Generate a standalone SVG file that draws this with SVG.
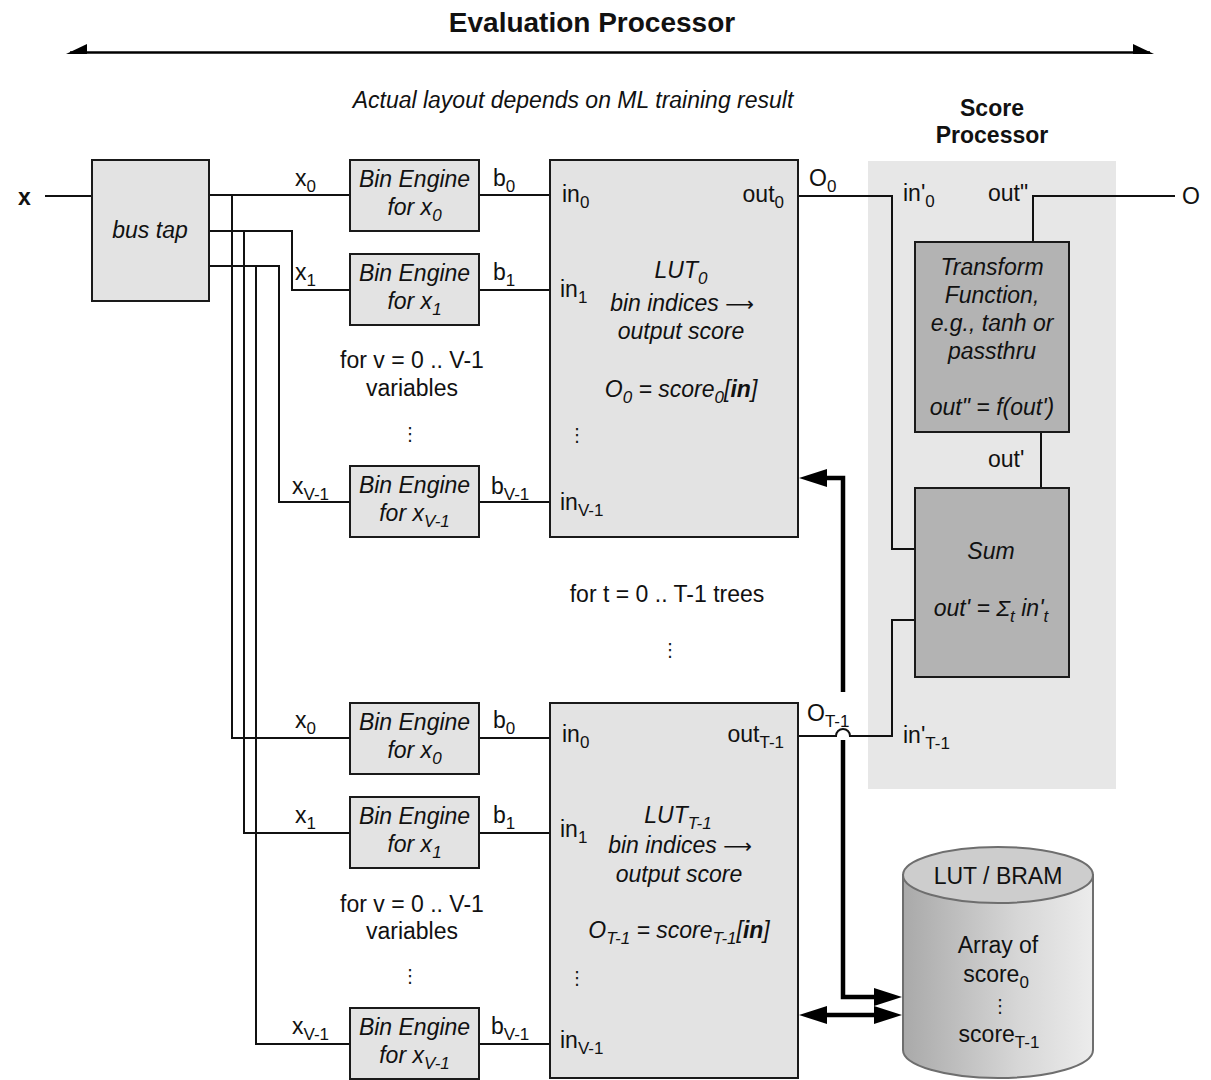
<svg xmlns="http://www.w3.org/2000/svg" width="1211" height="1080" viewBox="0 0 1211 1080">
<defs>
<style>
.box{fill:#e3e3e3;stroke:#1a1a1a;stroke-width:2}
.dbox{fill:#b3b3b3;stroke:#1a1a1a;stroke-width:2}
.w{fill:none;stroke:#111;stroke-width:2}
.thick{fill:none;stroke:#000;stroke-width:4.5}
text{font-family:"Liberation Sans","DejaVu Sans",Arial,sans-serif;font-size:23px;fill:#111}
.i{font-style:italic}
.b{font-weight:bold}
.c{text-anchor:middle}
.e{text-anchor:end}
.s{font-size:17px}
.arr{font-family:"DejaVu Sans",sans-serif;font-size:20px}
.dots{font-family:"DejaVu Sans",sans-serif;font-size:18px}
</style>
<marker id="ah" markerUnits="userSpaceOnUse" markerWidth="28" markerHeight="20" viewBox="0 0 28 20" refX="18" refY="10" orient="auto-start-reverse">
<path d="M0,1 L28,10 L0,19 z" fill="#000"/>
</marker>
<linearGradient id="cyl" x1="0" y1="0" x2="1" y2="0">
<stop offset="0" stop-color="#a9a9a9"/>
<stop offset="0.6" stop-color="#d6d6d6"/>
<stop offset="1" stop-color="#ececec"/>
</linearGradient>
</defs>
<rect width="1211" height="1080" fill="#fff"/>

<g id="title">
<text class="b c" x="592" y="32" style="font-size:28px">Evaluation Processor</text>
<line x1="70" y1="52.5" x2="1150" y2="52.5" stroke="#000" stroke-width="2.5"/>
<polygon points="66,54 87,44 87,54" fill="#000"/>
<polygon points="1154,54 1133,44 1133,54" fill="#000"/>
<text class="i c" x="573" y="108">Actual layout depends on ML training result</text>
</g>

<g id="score-panel">
<rect x="868" y="161" width="248" height="628" fill="#e7e7e7"/>
<text class="b c" x="992" y="116">Score</text>
<text class="b c" x="992" y="143">Processor</text>
</g>

<g id="connectors">
<line class="w" x1="45" y1="196" x2="92" y2="196"/>
<line class="w" x1="209" y1="195" x2="350" y2="195"/>
<path class="w" d="M209,231 H292 V290 H350"/>
<path class="w" d="M209,266 H279 V502 H350"/>
<path class="w" d="M232,195 V738 H350"/>
<path class="w" d="M244,231 V833 H350"/>
<path class="w" d="M256,266 V1044 H350"/>
<line class="w" x1="479" y1="195" x2="550" y2="195"/>
<line class="w" x1="479" y1="290" x2="550" y2="290"/>
<line class="w" x1="479" y1="502" x2="550" y2="502"/>
<line class="w" x1="479" y1="738" x2="550" y2="738"/>
<line class="w" x1="479" y1="833" x2="550" y2="833"/>
<line class="w" x1="479" y1="1044" x2="550" y2="1044"/>
<path class="w" d="M798,196 H892 V549 H915"/>
<path class="w" d="M798,736 H836 A7,7 0 0 1 850,736 H892 V620 H915"/>
<path class="w" d="M1033,242 V196 H1175"/>
<path class="w" d="M1041,432 V488"/>
<path class="thick" d="M843,692 V478 H809" marker-end="url(#ah)"/>
<path class="thick" d="M843,740 V997 H892" marker-end="url(#ah)"/>
<path class="thick" d="M809,1015 H892" marker-start="url(#ah)" marker-end="url(#ah)"/>
</g>

<g id="wire-labels">
<text class="b" x="18" y="205">x</text>
<text x="295" y="186">x<tspan class="s" dy="6">0</tspan></text>
<text x="295" y="280">x<tspan class="s" dy="6">1</tspan></text>
<text x="292" y="494">x<tspan class="s" dy="6">V-1</tspan></text>
<text x="493" y="186">b<tspan class="s" dy="6">0</tspan></text>
<text x="493" y="280">b<tspan class="s" dy="6">1</tspan></text>
<text x="491" y="494">b<tspan class="s" dy="6">V-1</tspan></text>
<text x="295" y="728">x<tspan class="s" dy="6">0</tspan></text>
<text x="295" y="823">x<tspan class="s" dy="6">1</tspan></text>
<text x="292" y="1034">x<tspan class="s" dy="6">V-1</tspan></text>
<text x="493" y="728">b<tspan class="s" dy="6">0</tspan></text>
<text x="493" y="823">b<tspan class="s" dy="6">1</tspan></text>
<text x="491" y="1034">b<tspan class="s" dy="6">V-1</tspan></text>
<text x="809" y="186">O<tspan class="s" dy="6">0</tspan></text>
<text x="807" y="721">O<tspan class="s" dy="6">T-1</tspan></text>
<text x="903" y="201">in'<tspan class="s" dy="6">0</tspan></text>
<text x="988" y="201">out"</text>
<text x="1182" y="204">O</text>
<text x="988" y="467">out'</text>
<text x="903" y="743">in'<tspan class="s" dy="6">T-1</tspan></text>
<text class="c" x="412" y="368">for v = 0 .. V-1</text>
<text class="c" x="412" y="396">variables</text>
<text class="c dots" x="410" y="440">⋮</text>
<text class="c" x="412" y="912">for v = 0 .. V-1</text>
<text class="c" x="412" y="939">variables</text>
<text class="c dots" x="410" y="982">⋮</text>
<text class="c" x="667" y="602">for t = 0 .. T-1 trees</text>
<text class="c dots" x="670" y="656">⋮</text>
</g>

<g id="bus-tap">
<rect class="box" x="92" y="160" width="117" height="141"/>
<text class="i c" x="150" y="238">bus tap</text>
</g>

<g id="bin-engine-0-x0">
<rect class="box" x="350" y="160" width="129" height="71"/>
<text class="i c" x="414.5" y="187">Bin Engine</text>
<text class="i c" x="414.5" y="215">for x<tspan class="s" dy="6">0</tspan></text>
</g>
<g id="bin-engine-0-x1">
<rect class="box" x="350" y="254" width="129" height="71"/>
<text class="i c" x="414.5" y="281">Bin Engine</text>
<text class="i c" x="414.5" y="309">for x<tspan class="s" dy="6">1</tspan></text>
</g>
<g id="bin-engine-0-xV">
<rect class="box" x="350" y="466" width="129" height="71"/>
<text class="i c" x="414.5" y="493">Bin Engine</text>
<text class="i c" x="414.5" y="521">for x<tspan class="s" dy="6">V-1</tspan></text>
</g>
<g id="bin-engine-T-x0">
<rect class="box" x="350" y="703" width="129" height="71"/>
<text class="i c" x="414.5" y="730">Bin Engine</text>
<text class="i c" x="414.5" y="758">for x<tspan class="s" dy="6">0</tspan></text>
</g>
<g id="bin-engine-T-x1">
<rect class="box" x="350" y="797" width="129" height="71"/>
<text class="i c" x="414.5" y="824">Bin Engine</text>
<text class="i c" x="414.5" y="852">for x<tspan class="s" dy="6">1</tspan></text>
</g>
<g id="bin-engine-T-xV">
<rect class="box" x="350" y="1008" width="129" height="71"/>
<text class="i c" x="414.5" y="1035">Bin Engine</text>
<text class="i c" x="414.5" y="1063">for x<tspan class="s" dy="6">V-1</tspan></text>
</g>

<g id="lut-0">
<rect class="box" x="550" y="160" width="248" height="377"/>
<text x="562" y="202">in<tspan class="s" dy="6">0</tspan></text>
<text x="560" y="297">in<tspan class="s" dy="6">1</tspan></text>
<text class="dots" x="568" y="441">⋮</text>
<text x="560" y="510">in<tspan class="s" dy="6">V-1</tspan></text>
<text class="e" x="784" y="202">out<tspan class="s" dy="6">0</tspan></text>
<text class="i c" x="681" y="278">LUT<tspan class="s" dy="6">0</tspan></text>
<text class="i c" x="682" y="311">bin indices <tspan class="arr">⟶</tspan></text>
<text class="i c" x="681" y="339">output score</text>
<text class="i c" x="681" y="397">O<tspan class="s" dy="6">0</tspan><tspan dy="-6"> = score</tspan><tspan class="s" dy="6">0</tspan><tspan dy="-6">[</tspan><tspan class="b">in</tspan>]</text>
</g>

<g id="lut-T-1">
<rect class="box" x="550" y="703" width="248" height="375"/>
<text x="562" y="742">in<tspan class="s" dy="6">0</tspan></text>
<text x="560" y="837">in<tspan class="s" dy="6">1</tspan></text>
<text class="dots" x="568" y="984">⋮</text>
<text x="560" y="1048">in<tspan class="s" dy="6">V-1</tspan></text>
<text class="e" x="784" y="742">out<tspan class="s" dy="6">T-1</tspan></text>
<text class="i c" x="678" y="823">LUT<tspan class="s" dy="6">T-1</tspan></text>
<text class="i c" x="680" y="853">bin indices <tspan class="arr">⟶</tspan></text>
<text class="i c" x="679" y="882">output score</text>
<text class="i c" x="679" y="938">O<tspan class="s" dy="6">T-1</tspan><tspan dy="-6"> = score</tspan><tspan class="s" dy="6">T-1</tspan><tspan dy="-6">[</tspan><tspan class="b">in</tspan>]</text>
</g>

<g id="transform">
<rect class="dbox" x="915" y="242" width="154" height="190"/>
<text class="i c" x="992" y="275">Transform</text>
<text class="i c" x="992" y="303">Function,</text>
<text class="i c" x="992" y="331">e.g., tanh or</text>
<text class="i c" x="992" y="359">passthru</text>
<text class="i c" x="992" y="415">out" = f(out')</text>
</g>

<g id="sum">
<rect class="dbox" x="915" y="488" width="154" height="189"/>
<text class="i c" x="991" y="559">Sum</text>
<text class="i c" x="991" y="616">out' = Σ<tspan class="s" dy="6">t</tspan><tspan dy="-6"> in'</tspan><tspan class="s" dy="6">t</tspan></text>
</g>

<g id="lut-bram">
<path d="M903,875 V1050 A95,28 0 0 0 1093,1050 V875 z" fill="url(#cyl)" stroke="#6e6e6e" stroke-width="2"/>
<ellipse cx="998" cy="875" rx="95" ry="28" fill="#cdcdcd" stroke="#6e6e6e" stroke-width="2"/>
<text class="c" x="998" y="884">LUT / BRAM</text>
<text class="c" x="998" y="953">Array of</text>
<text class="c" x="996" y="982">score<tspan class="s" dy="6">0</tspan></text>
<text class="c dots" x="1000" y="1012">⋮</text>
<text class="c" x="999" y="1042">score<tspan class="s" dy="6">T-1</tspan></text>
</g>
</svg>
